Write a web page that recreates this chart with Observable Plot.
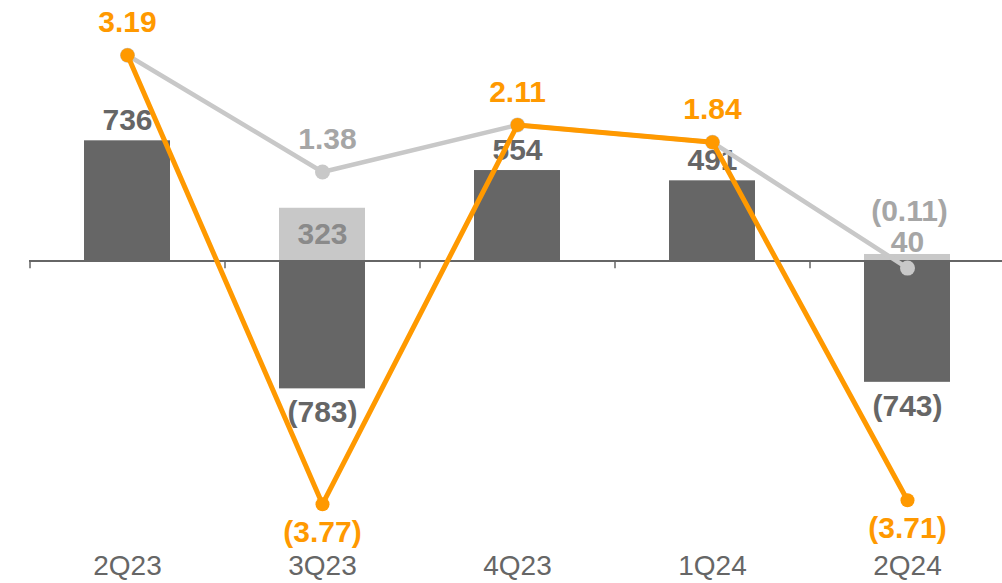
<!DOCTYPE html>
<html>
<head>
<meta charset="utf-8">
<script src="https://cdn.jsdelivr.net/npm/d3@7"></script>
<script src="https://cdn.jsdelivr.net/npm/@observablehq/plot@0.6"></script>
<style>
  html, body { margin: 0; padding: 0; background: #fff; }
  #chart svg { display: block; }
</style>
</head>
<body>
<div id="chart"></div>
<script>
// ---- data ----
const quarters   = ["2Q23", "3Q23", "4Q23", "1Q24", "2Q24"];
const darkBars   = [736, -783, 554, 491, -743];
const lightBars  = [null, 323, null, null, 40];
const orangeLine = [3.19, -3.77, 2.11, 1.84, -3.71];
const grayLine   = [3.19, 1.38, 2.11, 1.84, -0.11];

// ---- styling ----
const DARK = "#666666", LIGHT = "#c8c8c8", ORANGE = "#ff9900";
const LIGHT_TEXT = "#a6a6a6", MID_TEXT = "#8a8a8a";
const FONT = "'Liberation Sans', Arial, Helvetica, sans-serif";
const lineToBar = 395; // secondary-axis scale factor (line units -> bar units)

const rows = quarters.map((q, i) => ({
  q, dark: darkBars[i], light: lightBars[i], orange: orangeLine[i], gray: grayLine[i]
}));
const lightRows = rows.filter(d => d.light != null);

const fmtBar = v => v < 0 ? `(${d3.format(",.0f")(-v)})` : d3.format(",.0f")(v);
const fmtLine = v => v < 0 ? `(${d3.format(".2f")(-v)})` : d3.format(".2f")(v);

const W = 1002, H = 583;
const pxPerUnit = 0.1633, zeroPx = 260.5;
const yDomain = [-(H - zeroPx) / pxPerUnit, zeroPx / pxPerUnit];

const bold = {fontFamily: FONT, fontWeight: "bold", fontSize: 30};

const chart = Plot.plot({
  width: W,
  height: H,
  marginTop: 0, marginBottom: 0, marginLeft: 29, marginRight: 0,
  style: {fontFamily: FONT, background: "#fff", overflow: "visible"},
  x: {type: "band", domain: quarters, range: [29, 1004], paddingInner: 0.56, paddingOuter: 0.28, axis: null},
  y: {domain: yDomain, axis: null},
  marks: [
    // bars
    Plot.barY(rows, {x: "q", y: "dark", fill: DARK}),
    Plot.barY(lightRows, {x: "q", y: "light", fill: LIGHT}),
    // zero axis with ticks at category boundaries
    Plot.ruleY([0], {stroke: DARK, strokeWidth: 2}),
    Plot.ruleX(quarters, {x: d => d, y1: 0, y2: -48, dx: -97.5, stroke: DARK, strokeWidth: 1.5}),
    // bar labels
    Plot.text(rows.filter(d => d.dark >= 0), {x: "q", y: "dark", text: d => fmtBar(d.dark), dy: -20, fill: DARK, ...bold}),
    Plot.text(rows.filter(d => d.dark < 0), {x: "q", y: "dark", text: d => fmtBar(d.dark), dy: 24, fill: DARK, ...bold}),
    Plot.text(lightRows.filter(d => d.light * pxPerUnit > 40), {x: "q", y: d => d.light / 2, text: d => fmtBar(d.light), fill: MID_TEXT, ...bold}),
    Plot.text(lightRows.filter(d => d.light * pxPerUnit <= 40), {x: "q", y: "light", text: d => fmtBar(d.light), dy: -12, fill: LIGHT_TEXT, ...bold}),
    // gray line
    Plot.line(rows, {x: "q", y: d => d.gray * lineToBar, stroke: LIGHT, strokeWidth: 4.5}),
    Plot.dot(rows, {x: "q", y: d => d.gray * lineToBar, r: 7.5, fill: LIGHT}),
    // orange line
    Plot.line(rows, {x: "q", y: d => d.orange * lineToBar, stroke: ORANGE, strokeWidth: 5}),
    Plot.dot(rows, {x: "q", y: d => d.orange * lineToBar, r: 7, fill: ORANGE}),
    // line labels
    Plot.text(rows.filter(d => d.gray !== d.orange && d.gray >= 0), {x: "q", y: d => d.gray * lineToBar, text: d => fmtLine(d.gray), dy: -33, dx: 5, fill: LIGHT_TEXT, ...bold}),
    Plot.text(rows.filter(d => d.gray !== d.orange && d.gray < 0), {x: "q", y: d => d.gray * lineToBar, text: d => fmtLine(d.gray), dy: -57, dx: 2, fill: LIGHT_TEXT, ...bold}),
    Plot.text(rows.filter(d => d.orange >= 0), {x: "q", y: d => d.orange * lineToBar, text: d => fmtLine(d.orange), dy: -33, fill: ORANGE, ...bold}),
    Plot.text(rows.filter(d => d.orange < 0), {x: "q", y: d => d.orange * lineToBar, text: d => fmtLine(d.orange), dy: 28, fill: ORANGE, ...bold}),
    // category labels
    Plot.text(quarters, {x: d => d, frameAnchor: "bottom", lineAnchor: "middle", dy: -17, text: d => d, fill: DARK, fontSize: 28, fontFamily: FONT})
  ]
});

document.getElementById("chart").appendChild(chart);
</script>
</body>
</html>
